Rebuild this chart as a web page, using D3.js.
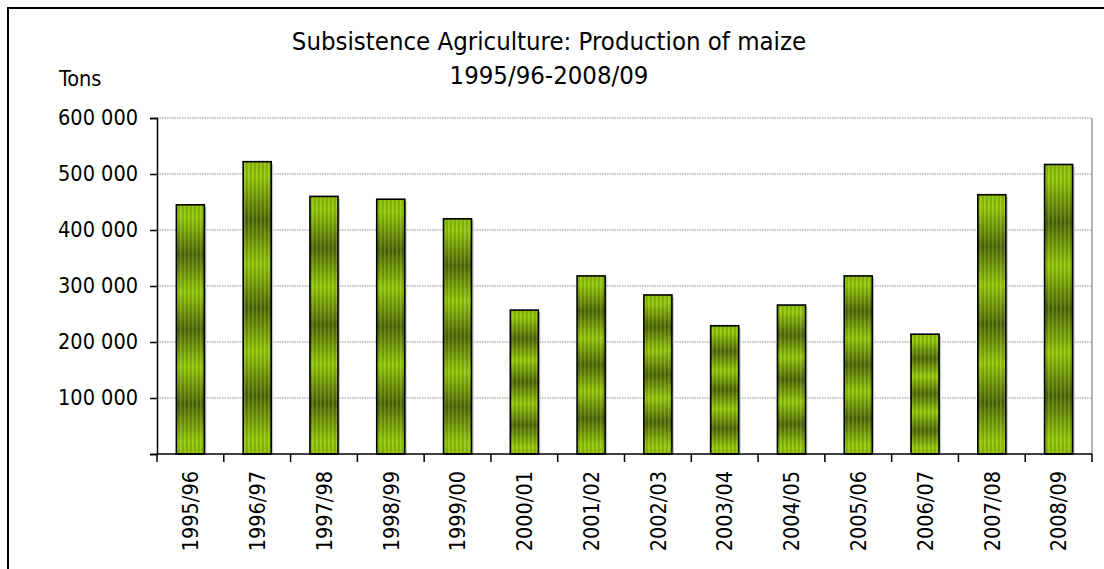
<!DOCTYPE html>
<html>
<head>
<meta charset="utf-8">
<script src="https://cdn.jsdelivr.net/npm/d3@7"></script>
<style>
  html, body { margin: 0; padding: 0; background: #fff; }
  svg { display: block; }
  text { font-family: "DejaVu Sans Condensed", "DejaVu Sans", sans-serif; font-stretch: condensed; fill: #000; }
</style>
</head>
<body>
<svg id="chart" width="1104" height="569"></svg>
<script>
// seasons and maize production (tons)
const seasons = ["1995/96", "1996/97", "1997/98", "1998/99", "1999/00", "2000/01", "2001/02",
                 "2002/03", "2003/04", "2004/05", "2005/06", "2006/07", "2007/08", "2008/09"];
const production = [445000, 522000, 460000, 455000, 420000, 257000, 318000,
                    284000, 229000, 266000, 318000, 214000, 463000, 517000];
const yTicks = [0, 100000, 200000, 300000, 400000, 500000, 600000];
const titleLines = ["Subsistence Agriculture: Production of maize", "1995/96-2008/09"];
const yLabel = "Tons";

const svg = d3.select("svg#chart");

// plot area
const plotL = 157, plotR = 1092, plotT = 118, plotB = 454;

const x = d3.scaleBand()
    .domain(seasons)
    .range([plotL, plotR])
    .paddingInner(0.58)
    .paddingOuter(0.29);

const y = d3.scaleLinear()
    .domain([0, 600000])
    .range([plotB, plotT]);

const fmt = v => v === 0 ? "" : d3.format(",")(v).replace(/,/g, " ");

// gradient + stripes for the bars
const defs = svg.append("defs");
const grad = defs.append("linearGradient")
    .attr("id", "barGrad")
    .attr("x1", 0).attr("y1", 0).attr("x2", 0).attr("y2", 1);
const light = "#8fc400", dark = "#4b6400";
[[0, "#86b800"], [0.05, light], [0.2, dark], [0.35, light], [0.5, dark],
 [0.65, light], [0.8, dark], [0.95, light], [1, "#86b800"]].forEach(s => {
    grad.append("stop").attr("offset", s[0]).attr("stop-color", s[1]);
});
const stripes = defs.append("pattern")
    .attr("id", "stripes")
    .attr("patternUnits", "userSpaceOnUse")
    .attr("width", 4).attr("height", 10);
stripes.append("rect").attr("x", 0).attr("width", 1.5).attr("height", 10)
    .attr("fill", "#ffffff").attr("opacity", 0.16);
stripes.append("rect").attr("x", 2.5).attr("width", 1).attr("height", 10)
    .attr("fill", "#000000").attr("opacity", 0.12);

// outer chart border
svg.append("rect")
    .attr("x", 8).attr("y", 8)
    .attr("width", 1120).attr("height", 600)
    .attr("fill", "#fff")
    .attr("stroke", "#000")
    .attr("stroke-width", 2);

// gridlines
svg.append("g")
    .selectAll("line")
    .data(yTicks.filter(d => d > 0))
    .enter().append("line")
    .attr("x1", plotL).attr("x2", plotR)
    .attr("y1", d => y(d)).attr("y2", d => y(d))
    .attr("stroke", "#8a8a8a")
    .attr("stroke-width", 1.2)
    .attr("stroke-dasharray", "1.5,1");

// right border of plot area
svg.append("line")
    .attr("x1", plotR).attr("x2", plotR)
    .attr("y1", plotT).attr("y2", plotB)
    .attr("stroke", "#9a9a9a")
    .attr("stroke-width", 1.5);

// bar shadows
svg.append("g")
    .selectAll("rect")
    .data(seasons)
    .enter().append("rect")
    .attr("x", d => x(d) + 2)
    .attr("y", (d, i) => y(production[i]) + 2)
    .attr("width", x.bandwidth())
    .attr("height", (d, i) => plotB - y(production[i]) - 2)
    .attr("fill", "#c8c8c8");

// bars
const bars = svg.append("g");
bars.selectAll("rect.bar")
    .data(seasons)
    .enter().append("rect")
    .attr("class", "bar")
    .attr("x", d => x(d))
    .attr("y", (d, i) => y(production[i]))
    .attr("width", x.bandwidth())
    .attr("height", (d, i) => plotB - y(production[i]))
    .attr("fill", "url(#barGrad)");
bars.selectAll("rect.stripe")
    .data(seasons)
    .enter().append("rect")
    .attr("class", "stripe")
    .attr("x", d => x(d))
    .attr("y", (d, i) => y(production[i]))
    .attr("width", x.bandwidth())
    .attr("height", (d, i) => plotB - y(production[i]))
    .attr("fill", "url(#stripes)")
    .attr("stroke", "#000")
    .attr("stroke-width", 1.6);

// y axis
const yAxis = svg.append("g")
    .attr("transform", `translate(${plotL},0)`)
    .call(d3.axisLeft(y).tickValues(yTicks).tickFormat(fmt).tickSize(7).tickPadding(12));
yAxis.select(".domain").attr("stroke", "#000").attr("stroke-width", 1.5);
yAxis.selectAll(".tick line").attr("stroke", "#000").attr("stroke-width", 1.5);
yAxis.selectAll("text").style("font-size", "21.5px").attr("fill", "#000");

// x axis: ticks sit between the categories
const xAxis = svg.append("g")
    .attr("transform", `translate(0,${plotB})`);
xAxis.append("line")
    .attr("x1", plotL).attr("x2", plotR)
    .attr("stroke", "#000").attr("stroke-width", 1.5);
const bounds = d3.range(seasons.length + 1).map(i => plotL + i * x.step());
xAxis.selectAll("line.tk")
    .data(bounds)
    .enter().append("line")
    .attr("class", "tk")
    .attr("x1", d => d).attr("x2", d => d)
    .attr("y1", 0).attr("y2", 8)
    .attr("stroke", "#000").attr("stroke-width", 1.5);
xAxis.selectAll("text")
    .data(seasons)
    .enter().append("text")
    .attr("transform", d => `translate(${x(d) + x.bandwidth() / 2},17) rotate(-90)`)
    .attr("dy", "0.36em")
    .attr("text-anchor", "end")
    .style("font-size", "21.5px")
    .text(d => d);

// titles
svg.append("text")
    .attr("x", 59).attr("y", 86)
    .style("font-size", "21.5px")
    .text(yLabel);
svg.selectAll("text.title")
    .data(titleLines)
    .enter().append("text")
    .attr("class", "title")
    .attr("x", 549)
    .attr("y", (d, i) => 50 + i * 34)
    .attr("text-anchor", "middle")
    .style("font-size", "25.5px")
    .text(d => d);
</script>
</body>
</html>
